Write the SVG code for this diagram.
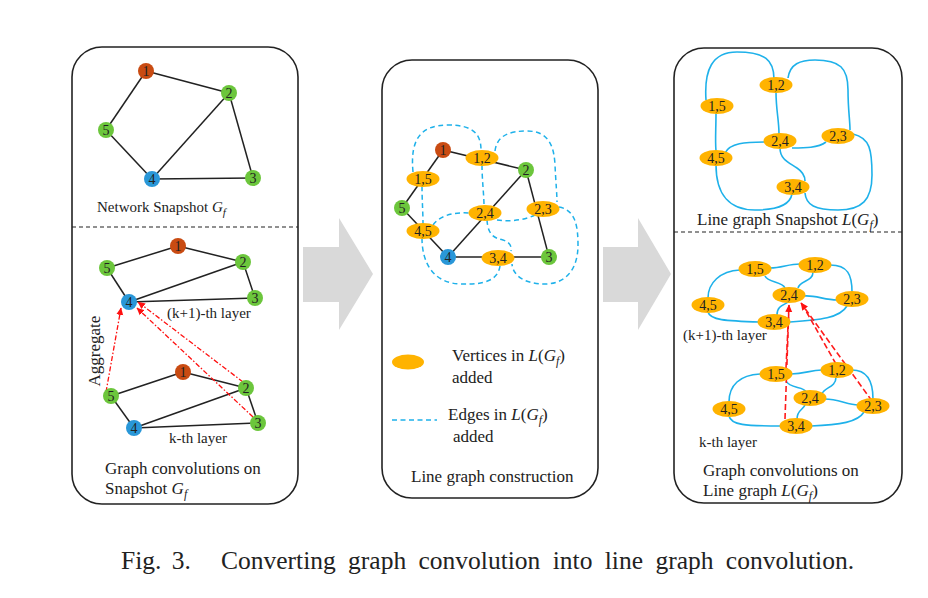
<svg xmlns="http://www.w3.org/2000/svg" width="928" height="598" viewBox="0 0 928 598">
<style>
  text { font-family: "Liberation Serif", "Times New Roman", serif; fill: #222; }
  .panel { fill: #fff; stroke: #222; stroke-width: 1.6; }
  .sep { stroke: #222; stroke-width: 1.2; stroke-dasharray: 4 3; fill: none; }
  .edge { stroke: #222; stroke-width: 1.5; fill: none; }
  .lgd { stroke: #1eb1ea; stroke-width: 1.5; stroke-dasharray: 5 3.5; fill: none; }
  .lgs { stroke: #1eb1ea; stroke-width: 1.6; fill: none; }
  .red1 { stroke: #ff1010; stroke-width: 1.3; stroke-dasharray: 5 2 1.5 2; fill: none; }
  .red2 { stroke: #ff1a1a; stroke-width: 1.6; stroke-dasharray: 6 3; fill: none; }
  .nr { fill: #c94b12; }
  .ng { fill: #6cc63c; }
  .nb { fill: #2997d8; }
  .ve { fill: #ffb300; }
  .nl { font-size: 14px; text-anchor: middle; }
  .t15 { font-size: 15px; }
  .t17 { font-size: 17px; }
  .it { font-style: italic; }
  .arrow { fill: #d9d9d9; }
</style>
<defs>
  <marker id="ah" markerUnits="userSpaceOnUse" markerWidth="8" markerHeight="8" refX="7" refY="4" orient="auto">
    <path d="M0,0.5 L7.5,4 L0,7.5 z" fill="#ff1010"/>
  </marker>
</defs>

<!-- panels -->
<rect class="panel" x="72" y="47" width="226" height="457" rx="30"/>
<rect class="panel" x="382" y="60" width="216" height="438" rx="30"/>
<rect class="panel" x="674" y="48" width="228" height="455" rx="30"/>
<line class="sep" x1="72" y1="227" x2="298" y2="227"/>
<line class="sep" x1="674" y1="232" x2="902" y2="232"/>

<!-- gray arrows -->
<polygon class="arrow" points="303,247 339,247 339,218 373,274 339,330 339,302 303,302"/>
<polygon class="arrow" points="603,247 638,247 638,218 671,274 638,330 638,302 603,302"/>

<g id="connectors">
  <!-- panel 1 top -->
  <line class="edge" x1="146" y1="71" x2="229" y2="93"/>
  <line class="edge" x1="146" y1="71" x2="106" y2="130"/>
  <line class="edge" x1="106" y1="130" x2="152" y2="179"/>
  <line class="edge" x1="152" y1="179" x2="229" y2="93"/>
  <line class="edge" x1="229" y1="93" x2="253" y2="178"/>
  <line class="edge" x1="152" y1="179" x2="253" y2="178"/>
  <!-- panel 1 (k+1) layer -->
  <line class="edge" x1="107" y1="268" x2="178" y2="246"/>
  <line class="edge" x1="178" y1="246" x2="243" y2="262"/>
  <line class="edge" x1="107" y1="268" x2="129" y2="302"/>
  <line class="edge" x1="129" y1="302" x2="243" y2="262"/>
  <line class="edge" x1="243" y1="262" x2="255" y2="298"/>
  <line class="edge" x1="129" y1="302" x2="255" y2="298"/>
  <!-- panel 1 k layer -->
  <line class="edge" x1="111" y1="396" x2="183" y2="372"/>
  <line class="edge" x1="183" y1="372" x2="246" y2="388"/>
  <line class="edge" x1="111" y1="396" x2="134" y2="428"/>
  <line class="edge" x1="134" y1="428" x2="246" y2="388"/>
  <line class="edge" x1="246" y1="388" x2="258" y2="423"/>
  <line class="edge" x1="134" y1="428" x2="258" y2="423"/>
  <!-- aggregate arrows -->
  <line class="red1" x1="106" y1="392" x2="121" y2="308" marker-end="url(#ah)"/>
  <line class="red1" x1="243" y1="382" x2="138" y2="302" marker-end="url(#ah)"/>
  <line class="red1" x1="253" y1="417" x2="137" y2="308" marker-end="url(#ah)"/>

  <!-- panel 2 edges -->
  <line class="edge" x1="443" y1="150" x2="526" y2="170"/>
  <line class="edge" x1="443" y1="150" x2="402" y2="208"/>
  <line class="edge" x1="402" y1="208" x2="448" y2="257"/>
  <line class="edge" x1="448" y1="257" x2="526" y2="170"/>
  <line class="edge" x1="526" y1="170" x2="549" y2="257"/>
  <line class="edge" x1="448" y1="257" x2="549" y2="257"/>
  <!-- panel 2 dashed line-graph edges -->
  <path class="lgd" d="M413,172 C410,140 420,125 448,125 C472,125 481,133 481,150"/>
  <path class="lgd" d="M495,151 C497,135 510,131 527,131 C548,131 554,145 555,165 C556,185 557,195 557,202"/>
  <path class="lgd" d="M482,165 C482,180 484,195 484,206"/>
  <path class="lgd" d="M422,186 C422,200 423,212 423,224"/>
  <path class="lgd" d="M433,225 C440,215 455,212 469,213"/>
  <path class="lgd" d="M497,220 C510,222 525,220 535,215"/>
  <path class="lgd" d="M487,220 C488,235 494,238 503,240 C510,242 512,247 511,251"/>
  <path class="lgd" d="M422,238 C422,265 435,283 460,284 C485,285 498,280 500,266"/>
  <path class="lgd" d="M559,207 C575,210 578,225 578,245 C578,270 565,284 545,284 C525,284 513,276 512,264"/>

  <!-- panel 3 top solid -->
  <path class="lgs" d="M706,100 C704,70 712,52 737,52 C765,52 774,60 774,79"/>
  <path class="lgs" d="M716,113 C716,130 715,140 716,151"/>
  <path class="lgs" d="M776,92 C776,110 779,120 779,134"/>
  <path class="lgs" d="M788,78 C790,64 800,60 815,60 C840,60 848,68 848,90 C848,110 850,120 850,130"/>
  <path class="lgs" d="M725,153 C730,143 745,142 765,142"/>
  <path class="lgs" d="M792,148 C805,148 818,148 826,142"/>
  <path class="lgs" d="M780,148 C780,160 790,163 797,168 C803,172 805,176 805,181"/>
  <path class="lgs" d="M716,165 C716,195 730,210 755,210 C778,210 790,205 792,194"/>
  <path class="lgs" d="M853,134 C870,138 872,150 872,175 C872,200 862,210 838,210 C815,210 806,205 805,193"/>

  <!-- panel 3 (k+1) layer -->
  <path class="lgs" d="M708,298 C708,283 720,271 740,270"/>
  <path class="lgs" d="M770,268 C782,268 788,264 800,264"/>
  <path class="lgs" d="M765,276 C768,283 782,281 785,288"/>
  <path class="lgs" d="M813,272 C813,282 800,280 798,288"/>
  <path class="lgs" d="M830,265 C848,265 852,275 852,292"/>
  <path class="lgs" d="M804,296 C815,295 825,300 837,300"/>
  <path class="lgs" d="M777,315 C777,305 785,305 788,302"/>
  <path class="lgs" d="M708,312 C710,320 725,321 760,322"/>
  <path class="lgs" d="M790,322 C820,320 840,318 847,306"/>

  <!-- panel 3 k layer -->
  <path class="lgs" d="M729,402 C729,385 740,375 760,374"/>
  <path class="lgs" d="M791,374 C805,374 810,370 822,370"/>
  <path class="lgs" d="M786,381 C790,389 804,386 806,392"/>
  <path class="lgs" d="M836,377 C836,388 824,387 822,394"/>
  <path class="lgs" d="M852,370 C868,370 873,382 873,399"/>
  <path class="lgs" d="M825,399 C838,399 848,405 858,405"/>
  <path class="lgs" d="M797,419 C797,410 803,410 805,405"/>
  <path class="lgs" d="M729,416 C731,425 745,426 781,426"/>
  <path class="lgs" d="M811,426 C840,425 858,422 864,412"/>
</g>

<!-- panel 1 top nodes -->
<g id="p1-n1"><circle class="nr" cx="146" cy="71" r="8"/><text class="nl" x="146" y="76">1</text></g>
<g id="p1-n2"><circle class="ng" cx="229" cy="93" r="8"/><text class="nl" x="229" y="98">2</text></g>
<g id="p1-n3"><circle class="ng" cx="253" cy="178" r="8"/><text class="nl" x="253" y="183">3</text></g>
<g id="p1-n4"><circle class="nb" cx="152" cy="179" r="8"/><text class="nl" x="152" y="184">4</text></g>
<g id="p1-n5"><circle class="ng" cx="106" cy="130" r="8"/><text class="nl" x="106" y="135">5</text></g>

<!-- panel 1 (k+1) nodes -->
<g id="p1u-n1"><circle class="nr" cx="178" cy="246" r="8"/><text class="nl" x="178" y="251">1</text></g>
<g id="p1u-n2"><circle class="ng" cx="243" cy="262" r="8"/><text class="nl" x="243" y="267">2</text></g>
<g id="p1u-n3"><circle class="ng" cx="255" cy="298" r="8"/><text class="nl" x="255" y="303">3</text></g>
<g id="p1u-n4"><circle class="nb" cx="129" cy="302" r="8"/><text class="nl" x="129" y="307">4</text></g>
<g id="p1u-n5"><circle class="ng" cx="107" cy="268" r="8"/><text class="nl" x="107" y="273">5</text></g>

<!-- panel 1 k nodes -->
<g id="p1k-n1"><circle class="nr" cx="183" cy="372" r="8"/><text class="nl" x="183" y="377">1</text></g>
<g id="p1k-n2"><circle class="ng" cx="246" cy="388" r="8"/><text class="nl" x="246" y="393">2</text></g>
<g id="p1k-n3"><circle class="ng" cx="258" cy="423" r="8"/><text class="nl" x="258" y="428">3</text></g>
<g id="p1k-n4"><circle class="nb" cx="134" cy="428" r="8"/><text class="nl" x="134" y="433">4</text></g>
<g id="p1k-n5"><circle class="ng" cx="111" cy="396" r="8"/><text class="nl" x="111" y="401">5</text></g>

<!-- panel 2 nodes -->
<g id="p2-n1"><circle class="nr" cx="443" cy="150" r="8"/><text class="nl" x="443" y="155">1</text></g>
<g id="p2-n2"><circle class="ng" cx="526" cy="170" r="8"/><text class="nl" x="526" y="175">2</text></g>
<g id="p2-n3"><circle class="ng" cx="549" cy="257" r="8"/><text class="nl" x="549" y="262">3</text></g>
<g id="p2-n4"><circle class="nb" cx="448" cy="257" r="8"/><text class="nl" x="448" y="262">4</text></g>
<g id="p2-n5"><circle class="ng" cx="402" cy="208" r="8"/><text class="nl" x="402" y="213">5</text></g>
<g id="p2-e12"><ellipse class="ve" cx="482" cy="158" rx="16.5" ry="8"/><text class="nl" x="482" y="163">1,2</text></g>
<g id="p2-e15"><ellipse class="ve" cx="423" cy="179" rx="16.5" ry="8"/><text class="nl" x="423" y="184">1,5</text></g>
<g id="p2-e24"><ellipse class="ve" cx="485" cy="213" rx="16.5" ry="8"/><text class="nl" x="485" y="218">2,4</text></g>
<g id="p2-e23"><ellipse class="ve" cx="543" cy="209" rx="16.5" ry="8"/><text class="nl" x="543" y="214">2,3</text></g>
<g id="p2-e45"><ellipse class="ve" cx="423" cy="231" rx="16.5" ry="8"/><text class="nl" x="423" y="236">4,5</text></g>
<g id="p2-e34"><ellipse class="ve" cx="498" cy="258" rx="16.5" ry="8"/><text class="nl" x="498" y="263">3,4</text></g>

<!-- panel 3 top nodes -->
<g id="p3-e12"><ellipse class="ve" cx="776" cy="85" rx="16.5" ry="8"/><text class="nl" x="776" y="90">1,2</text></g>
<g id="p3-e15"><ellipse class="ve" cx="717" cy="106" rx="16.5" ry="8"/><text class="nl" x="717" y="111">1,5</text></g>
<g id="p3-e24"><ellipse class="ve" cx="780" cy="141" rx="16.5" ry="8"/><text class="nl" x="780" y="146">2,4</text></g>
<g id="p3-e23"><ellipse class="ve" cx="838" cy="136" rx="16.5" ry="8"/><text class="nl" x="838" y="141">2,3</text></g>
<g id="p3-e45"><ellipse class="ve" cx="716" cy="158" rx="16.5" ry="8"/><text class="nl" x="716" y="163">4,5</text></g>
<g id="p3-e34"><ellipse class="ve" cx="793" cy="187" rx="16.5" ry="8"/><text class="nl" x="793" y="192">3,4</text></g>

<!-- red dashed arrows panel 3 -->
<g id="p3-aggregate">
  <line class="red2" x1="786" y1="368" x2="789" y2="306"/>
  <line class="red2" x1="785" y1="419" x2="789" y2="305" marker-end="url(#ah)"/>
  <line class="red2" x1="836" y1="364" x2="802" y2="304"/>
  <line class="red2" x1="872" y1="401" x2="801" y2="303" marker-end="url(#ah)"/>
</g>

<!-- panel 3 (k+1) nodes -->
<g id="p3u-e15"><ellipse class="ve" cx="755" cy="269" rx="16.5" ry="8"/><text class="nl" x="755" y="274">1,5</text></g>
<g id="p3u-e12"><ellipse class="ve" cx="815" cy="265" rx="16.5" ry="8"/><text class="nl" x="815" y="270">1,2</text></g>
<g id="p3u-e24"><ellipse class="ve" cx="789" cy="295" rx="16.5" ry="8"/><text class="nl" x="789" y="300">2,4</text></g>
<g id="p3u-e23"><ellipse class="ve" cx="852" cy="299" rx="16.5" ry="8"/><text class="nl" x="852" y="304">2,3</text></g>
<g id="p3u-e45"><ellipse class="ve" cx="708" cy="305" rx="16.5" ry="8"/><text class="nl" x="708" y="310">4,5</text></g>
<g id="p3u-e34"><ellipse class="ve" cx="774" cy="322" rx="16.5" ry="8"/><text class="nl" x="774" y="327">3,4</text></g>

<!-- panel 3 k nodes -->
<g id="p3k-e15"><ellipse class="ve" cx="776" cy="374" rx="16.5" ry="8"/><text class="nl" x="776" y="379">1,5</text></g>
<g id="p3k-e12"><ellipse class="ve" cx="837" cy="370" rx="16.5" ry="8"/><text class="nl" x="837" y="375">1,2</text></g>
<g id="p3k-e24"><ellipse class="ve" cx="810" cy="398" rx="16.5" ry="8"/><text class="nl" x="810" y="403">2,4</text></g>
<g id="p3k-e23"><ellipse class="ve" cx="873" cy="406" rx="16.5" ry="8"/><text class="nl" x="873" y="411">2,3</text></g>
<g id="p3k-e45"><ellipse class="ve" cx="729" cy="409" rx="16.5" ry="8"/><text class="nl" x="729" y="414">4,5</text></g>
<g id="p3k-e34"><ellipse class="ve" cx="796" cy="426" rx="16.5" ry="8"/><text class="nl" x="796" y="431">3,4</text></g>

<!-- legend -->
<g id="legend-vertex"><ellipse class="ve" cx="408" cy="362" rx="16" ry="7.5"/></g>
<g id="legend-edge"><line class="lgd" x1="392" y1="420" x2="437" y2="420"/></g>

<!-- texts panel 1 -->
<text class="t15" x="97" y="212">Network Snapshot <tspan class="it">G</tspan><tspan class="it" font-size="11" dy="4">f</tspan></text>
<text class="t15" x="167" y="318">(k+1)-th layer</text>
<text class="t15" x="169" y="443">k-th layer</text>
<text class="t17" x="100" y="351" text-anchor="middle" transform="rotate(-90 100 351)">Aggregate</text>
<text class="t17" x="105" y="474">Graph convolutions on</text>
<text class="t17" x="105" y="494">Snapshot <tspan class="it">G</tspan><tspan class="it" font-size="12" dy="4">f</tspan></text>

<!-- texts panel 2 -->
<text class="t17" x="452" y="361">Vertices in <tspan class="it">L</tspan>(<tspan class="it">G</tspan><tspan class="it" font-size="12" dy="4">f</tspan><tspan dy="-4">)</tspan></text>
<text class="t17" x="452" y="383">added</text>
<text class="t17" x="448" y="420">Edges in <tspan class="it">L</tspan>(<tspan class="it">G</tspan><tspan class="it" font-size="12" dy="4">f</tspan><tspan dy="-4">)</tspan></text>
<text class="t17" x="453" y="442">added</text>
<text class="t17" x="411" y="482">Line graph construction</text>

<!-- texts panel 3 -->
<text class="t17" x="697" y="225">Line graph Snapshot <tspan class="it">L</tspan>(<tspan class="it">G</tspan><tspan class="it" font-size="12" dy="4">f</tspan><tspan dy="-4">)</tspan></text>
<text class="t15" x="683" y="340">(k+1)-th layer</text>
<text class="t15" x="699" y="447">k-th layer</text>
<text class="t17" x="703" y="476">Graph convolutions on</text>
<text class="t17" x="703" y="496">Line graph <tspan class="it">L</tspan>(<tspan class="it">G</tspan><tspan class="it" font-size="12" dy="4">f</tspan><tspan dy="-4">)</tspan></text>

<!-- caption -->
<text x="121" y="569" font-size="25.5" word-spacing="4">Fig. 3.</text>
<text x="221" y="569" font-size="25.5" word-spacing="6">Converting graph convolution into line graph convolution.</text>
</svg>
